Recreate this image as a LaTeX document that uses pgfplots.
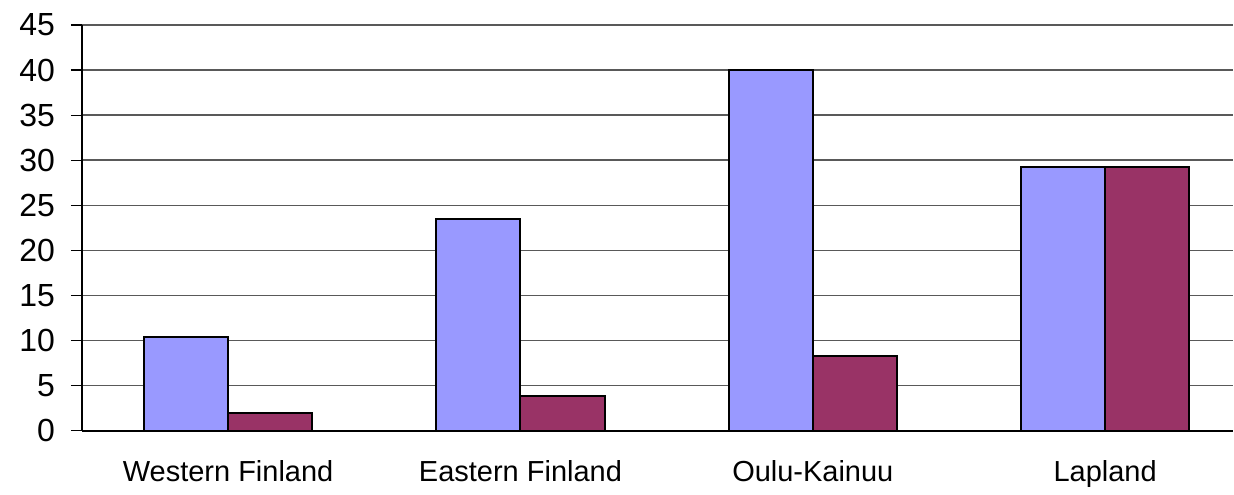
\documentclass[border=0pt]{standalone}
\usepackage{pgfplots}
\pgfplotsset{compat=1.18}
\usepackage{fontspec}
\setmainfont{Liberation Sans}
\definecolor{barblue}{HTML}{9999FF}
\definecolor{barred}{HTML}{993366}
\begin{document}
\begin{tikzpicture}
\begin{axis}[
  scale only axis,
  width=576pt, height=203pt,
  xmin=-0.5, xmax=3.438,
  ymin=0, ymax=45,
  axis x line=bottom, axis y line=left,
  axis line style={-, black, line width=0.8pt},
  ytick={0,5,...,45},
  ymajorgrids,
  major grid style={black!65, line width=0.8pt},
  tick align=outside,
  major tick length=5.5pt,
  tick style={black, line width=0.6pt},
  yticklabel style={font=\fontsize{16}{16}\selectfont, xshift=-4.5pt},
  /pgf/number format/assume math mode=true,
  xtick={0,1,2,3},
  xticklabels={Western Finland, Eastern Finland, Oulu-Kainuu, Lapland},
  x tick style={draw=none},
  xticklabel style={font=\fontsize{14.5}{14.5}\selectfont, yshift=-6pt},
  extra x ticks={-0.5,0.5,1.5,2.5},
  extra x tick labels={},
  extra x tick style={grid=none, major tick length=5.5pt, tick style={draw=black, line width=0.6pt}},
  clip=false,
]
\addplot[ybar, bar width=0.288, bar shift=-0.144, fill=barblue, draw=black, line width=1pt]
  coordinates {(0,10.4) (1,23.5) (2,40) (3,29.2)};
\addplot[ybar, bar width=0.288, bar shift=0.144, fill=barred, draw=black, line width=1pt]
  coordinates {(0,2.0) (1,3.8) (2,8.3) (3,29.2)};
\end{axis}
\useasboundingbox (-41pt,-30pt) rectangle (576pt,215.5pt);
\end{tikzpicture}
\end{document}
